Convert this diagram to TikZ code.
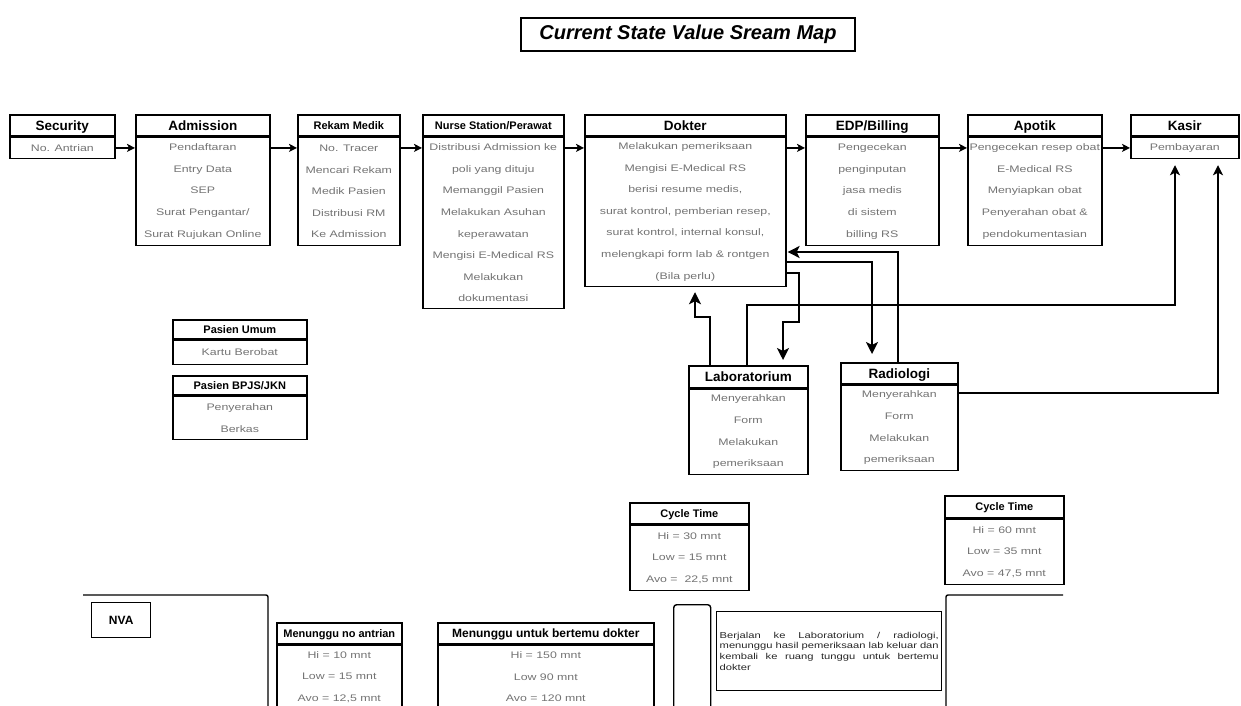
\documentclass[tikz,border=0pt]{standalone}
\usepackage{fontspec}
\setmainfont{Liberation Sans}
\newfontfamily\bodyfont{Liberation Sans}[FakeStretch=1.3]
\usetikzlibrary{arrows.meta}
\tikzset{
  hd/.style={draw, line width=1.6pt, inner sep=0pt, text height=9.7pt, text depth=0pt, font=\bfseries\fontsize{13.5}{15}\selectfont},
  hds/.style={hd, text height=7.9pt, text depth=0pt, font=\bfseries\fontsize{11}{13}\selectfont},
  hdm/.style={hd, text height=8.6pt, text depth=0pt, font=\bfseries\fontsize{12}{14}\selectfont},
  bd/.style={draw, line width=1.6pt, inner sep=0pt, align=center, text=black!55, font=\bodyfont\fontsize{9.5}{21.6}\selectfont},
  arr/.style={line width=1.6pt, -{Stealth[length=8pt,width=8pt,inset=2pt]}},
  uparr/.style={line width=1.8pt, shorten >=6pt, -{Stealth[length=10pt,width=10pt,inset=2.5pt]}},
  carr/.style={line width=2.6pt, shorten >=5pt, -{Stealth[length=12pt,width=12pt,inset=3pt]}},
  frame/.style={line width=1.4pt, rounded corners=2pt},
}
\newcommand{\vsmbox}[9]{%
  \node[#9, minimum width=#4pt, minimum height=#5pt, anchor=north west] (#1h) at (#2,#3) {#7};
  \node[bd, minimum width=#4pt, minimum height=#6pt, anchor=north] (#1) at (#1h.south) {#8};}
\begin{document}
\begin{tikzpicture}[x=1pt,y=-1pt]
\useasboundingbox (0,0) rectangle (1241,706);

\node[draw, line width=1.2pt, minimum width=334pt, minimum height=33pt,
  font=\bfseries\itshape\fontsize{20}{22}\selectfont] (title) at (688,34.5) {Current State Value Sream Map};

% main row
\vsmbox{sec}{9}{114}{105}{21}{21}{Security}{No. Antrian}{hd}
\vsmbox{adm}{135}{114}{134}{21}{108}{Admission}{Pendaftaran\\Entry Data\\SEP\\Surat Pengantar/\\Surat Rujukan Online}{hd}
\vsmbox{rek}{297}{114}{102}{21}{108}{Rekam Medik}{No. Tracer\\Mencari Rekam\\Medik Pasien\\Distribusi RM\\Ke Admission}{hds}
\vsmbox{nur}{422}{114}{141}{21}{171}{Nurse Station/Perawat}{Distribusi Admission ke\\poli yang dituju\\Memanggil Pasien\\Melakukan Asuhan\\keperawatan\\Mengisi E-Medical RS\\Melakukan\\dokumentasi}{hds}
\vsmbox{dok}{584}{114}{201}{21}{149}{Dokter}{Melakukan pemeriksaan\\Mengisi E-Medical RS\\berisi resume medis,\\surat kontrol, pemberian resep,\\surat kontrol, internal konsul,\\melengkapi form lab \& rontgen\\(Bila perlu)}{hd}
\vsmbox{edp}{805}{114}{133}{21}{108}{EDP/Billing}{Pengecekan\\penginputan\\jasa medis\\di sistem\\billing RS}{hd}
\vsmbox{apo}{967}{114}{134}{21}{108}{Apotik}{Pengecekan resep obat\\E-Medical RS\\Menyiapkan obat\\Penyerahan obat \&\\pendokumentasian}{hd}
\vsmbox{kas}{1130}{114}{108}{21}{21}{Kasir}{Pembayaran}{hd}

% patient types
\vsmbox{pu}{172}{319}{134}{19}{24}{Pasien Umum}{Kartu Berobat}{hds}
\vsmbox{pb}{172}{375}{134}{19}{43}{Pasien BPJS/JKN}{Penyerahan\\Berkas}{hds}

% lab / radiology
\vsmbox{lab}{688}{365}{119}{22}{85}{Laboratorium}{Menyerahkan\\Form\\Melakukan\\pemeriksaan}{hd}
\vsmbox{rad}{840}{362}{117}{21}{85}{Radiologi}{Menyerahkan\\Form\\Melakukan\\pemeriksaan}{hd}

% cycle times
\vsmbox{cta}{629}{502}{119}{21}{65}{Cycle Time}{Hi = 30 mnt\\Low = 15 mnt\\Avo =\ \ 22,5 mnt}{hds}
\vsmbox{ctb}{944}{495}{119}{22}{65}{Cycle Time}{Hi = 60 mnt\\Low = 35 mnt\\Avo = 47,5 mnt}{hds}

% NVA area
\coordinate (lb1) at (83,595); \coordinate (lb2) at (268,595); \coordinate (lb3) at (268,712);
\draw[frame] (lb1) -- (lb2) -- (lb3);
\coordinate (rb1) at (946,712); \coordinate (rb2) at (946,595); \coordinate (rb3) at (1063,595);
\draw[frame] (rb1) -- (rb2) -- (rb3);
\node[draw, line width=1.4pt, minimum width=59pt, minimum height=35pt, anchor=north west,
  font=\bfseries\fontsize{12}{14}\selectfont] (nva) at (91,602) {NVA};
\vsmbox{mna}{276}{622}{125}{21}{63}{Menunggu no antrian}{Hi = 10 mnt\\Low = 15 mnt\\Avo = 12,5 mnt}{hds}
\vsmbox{mnd}{437}{622}{216}{21}{63}{Menunggu untuk bertemu dokter}{Hi = 150 mnt\\Low 90 mnt\\Avo = 120 mnt}{hdm}
\node[draw, line width=1.4pt, rounded corners=3pt, minimum width=37pt, minimum height=115pt, anchor=north west] (gap) at (673,604) {};
\node[draw, line width=1.4pt, minimum width=225pt, minimum height=79pt, text width=219pt, inner sep=3pt,
  align=justify, anchor=north west, text=black!85, font=\bodyfont\fontsize{8.6}{10.8}\selectfont] (note) at (716,611)
  {Berjalan ke Laboratorium / radiologi,\linebreak menunggu hasil pemeriksaan lab keluar dan\linebreak kembali ke ruang tunggu untuk bertemu\linebreak dokter};

% main flow arrows
\draw[arr] (sec.east) -- (adm.west |- sec.east);
\draw[arr] (adm.east |- sec.east) -- (rek.west |- sec.east);
\draw[arr] (rek.east |- sec.east) -- (nur.west |- sec.east);
\draw[arr] (nur.east |- sec.east) -- (dok.west |- sec.east);
\draw[arr] (dok.east |- sec.east) -- (edp.west |- sec.east);
\draw[arr] (edp.east |- sec.east) -- (apo.west |- sec.east);
\draw[arr] (apo.east |- sec.east) -- (kas.west |- sec.east);

% lab / radiology connectors
\coordinate (la1) at (710,317); \coordinate (la2) at (695,317);
\draw[carr] (labh.north -| la1) -- (la1) -- (la2) -- (dok.south -| la2);
\coordinate (dl1) at (799,273); \coordinate (dl2) at (799,322); \coordinate (dl3) at (783,322);
\draw[carr] (dok.east |- dl1) -- (dl1) -- (dl2) -- (dl3) -- (labh.north -| dl3);
\coordinate (dr1) at (872,262);
\draw[carr, shorten >=8pt] (dok.east |- dr1) -- (dr1) -- (radh.north -| dr1);
\coordinate (rd1) at (898,252);
\draw[carr, shorten >=1pt] (radh.north -| rd1) -- (rd1) -- (dok.east |- rd1);
\coordinate (lk1) at (747,305); \coordinate (lk2) at (1175,305);
\draw[uparr] (labh.north -| lk1) -- (lk1) -- (lk2) -- (kas.south -| lk2);
\coordinate (rk1) at (1218,393);
\draw[uparr] (rad.east |- rk1) -- (rk1) -- (kas.south -| rk1);
\end{tikzpicture}
\end{document}
